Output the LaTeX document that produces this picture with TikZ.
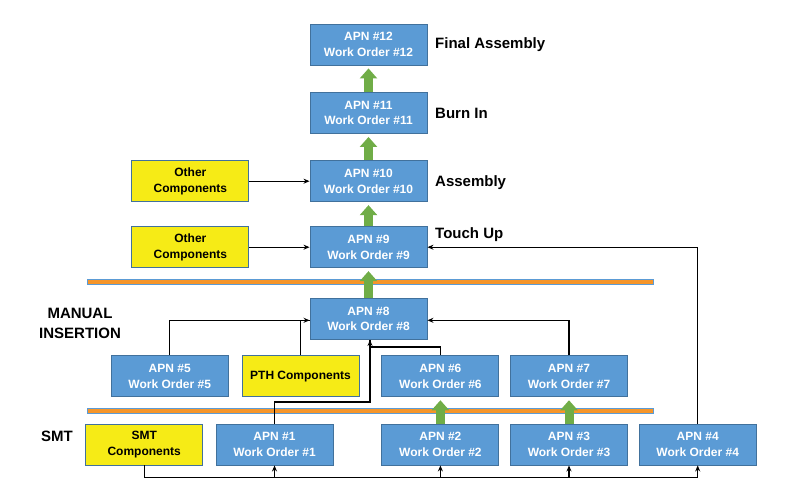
\documentclass[tikz,border=0pt]{standalone}
\usepackage{fontspec}
\setmainfont{Liberation Sans}
\usetikzlibrary{arrows.meta}
\definecolor{apnblue}{HTML}{5B9BD5}
\definecolor{apnedge}{HTML}{41719C}
\definecolor{partyellow}{HTML}{F6EB16}
\definecolor{flowgreen}{HTML}{70AD47}
\definecolor{lineorange}{HTML}{F5952A}
\tikzset{
  apn/.style={draw=apnedge,fill=apnblue,text=white,line width=0.9bp,
    font=\bfseries\fontsize{12bp}{15.6bp}\selectfont,align=center,
    minimum width=117bp,minimum height=41bp,inner sep=0pt},
  part/.style={apn,fill=partyellow,text=black},
  stage/.style={font=\bfseries\fontsize{15bp}{20bp}\selectfont,align=center,inner sep=0pt},
  flow/.style={draw=flowgreen,line width=9bp,shorten >=3bp,
    -{Triangle[width=17bp,length=10bp]}},
  feed/.style={line width=1.3bp,>={Stealth[length=6bp,width=5bp]}},
  divider/.style={fill=lineorange,draw=apnblue,line width=0.8bp}
}
\begin{document}
\begin{tikzpicture}[x=1bp,y=-1bp]
\useasboundingbox (0,0) rectangle (800,497);
\node[apn] (v12) at (368.5,44.5) {APN \#12\\Work Order \#12};
\node[apn] (v11) at (368.5,113) {APN \#11\\Work Order \#11};
\node[apn] (v10) at (368.5,181.2) {APN \#10\\Work Order \#10};
\node[apn] (v9) at (368.5,247.2) {APN \#9\\Work Order \#9};
\node[apn] (v8) at (368.5,319) {APN \#8\\Work Order \#8};
\node[apn] (v5) at (169.7,376.3) {APN \#5\\Work Order \#5};
\node[apn] (v6) at (440.4,376.3) {APN \#6\\Work Order \#6};
\node[apn] (v7) at (569,376.3) {APN \#7\\Work Order \#7};
\node[apn] (v1) at (274.5,444.5) {APN \#1\\Work Order \#1};
\node[apn] (v2) at (440.4,444.5) {APN \#2\\Work Order \#2};
\node[apn] (v3) at (569,444.5) {APN \#3\\Work Order \#3};
\node[apn] (v4) at (697.7,444.5) {APN \#4\\Work Order \#4};
\node[part] (c10) at (190.4,181.2) {Other\\Components};
\node[part] (c9) at (190.4,247.2) {Other\\Components};
\node[part] (pth) at (300.5,376.3) {PTH Components};
\node[part] (smt) at (144.2,444.5) {SMT\\Components};
\node[stage,anchor=west] (s12) at (435,45) {Final Assembly};
\node[stage,anchor=west] (s11) at (435,113.5) {Burn In};
\node[stage,anchor=west] (s10) at (435,183) {Assembly};
\node[stage,anchor=west] (s9) at (435,235) {Touch Up};
\node[stage] (sman) at (80,323) {MANUAL\\INSERTION};
\node[stage] (ssmt) at (57,436) {SMT};
% dividers
\draw[divider] (87,279.8) rectangle (653,284.2);
\draw[divider] (87,408.6) rectangle (653,413);
% green flow
\draw[flow] (v8.north) -- (v9.south);
\draw[flow] (v9.north) -- (v10.south);
\draw[flow] (v10.north) -- (v11.south);
\draw[flow] (v11.north) -- (v12.south);
\draw[flow] (v2.north) -- (v6.south);
\draw[flow] (v3.north) -- (v7.south);
% feeds
\draw [feed,->] (c10) -- (v10);
\draw [feed,->] (c9) -- (v9);
\draw [feed,->] (v4.north) |- (v9.east);
\draw [feed,->] (v5.north) |- ([yshift=-1.3bp]v8.west);
\draw [feed] (pth.north) |- ([yshift=-1.3bp]v8.west);
\draw [feed,->] (v7.north) |- ([yshift=-1.3bp]v8.east);
\draw [feed,->] (v1.north) -- ++(0,-21.5) -| ([xshift=1.5bp]v8.south);
\draw [feed] (v6.north) -- ++(0,-8.5) -| ([xshift=1.5bp]v8.south);
\coordinate (bus) at (144.2,477.7);
\draw [feed,->] (smt.south) -- (bus) -| (v4.south);
\draw [feed,->] (bus -| v1.south) -- (v1.south);
\draw [feed,->] (bus -| v2.south) -- (v2.south);
\draw [feed,->] (bus -| v3.south) -- (v3.south);
\end{tikzpicture}
\end{document}
